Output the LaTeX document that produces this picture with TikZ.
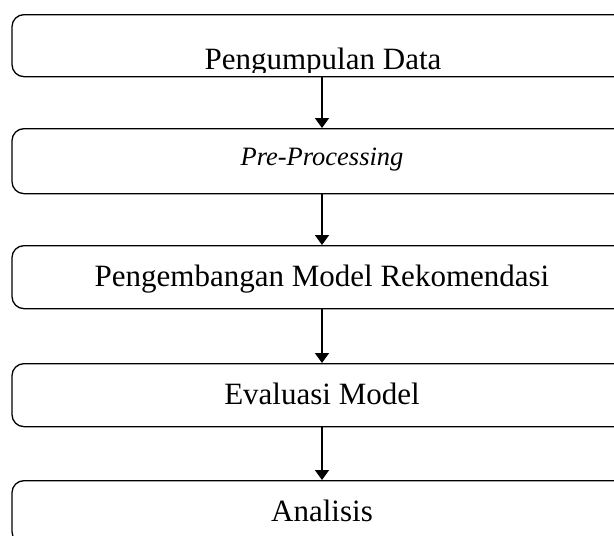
\documentclass[tikz,border=0pt]{standalone}
\usepackage{fontspec}
\setmainfont{Liberation Serif}
\usetikzlibrary{arrows.meta}
\tikzset{
	stage/.style = {
		rectangle,
		rounded corners=12pt,
		draw=black,
		line width=1.3pt,
		minimum width=620pt,
		inner sep=0pt,
		align=center,
		anchor=north,
		text height=41pt,
		text depth=22pt,
		font=\fontsize{31pt}{37pt}\selectfont
	},
	stage_it/.style = {
		stage,
		text height=37pt,
		text depth=28pt,
		font=\fontsize{26.5pt}{31pt}\selectfont\itshape
	},
	flow/.style = {
		line width=1.8pt,
		-{Triangle[width=14pt,length=10pt]}
	},
}
\begin{document}
\begin{tikzpicture}[x=1pt,y=-1pt]
\useasboundingbox (0,0) rectangle (614,536);
\clip (0,0) rectangle (614,536);
% stages
\node [stage, text height=0pt, text depth=0pt, minimum height=62pt] (collect) at (322,14) {};
\begin{scope}
	\clip (0,14) rectangle (640,72.5);
	\node [anchor=base, inner sep=0pt, font=\fontsize{31pt}{37pt}\selectfont] (collect_txt) at (323,69) {Pengumpulan Data};
\end{scope}
\node [stage_it] (prep) at (322,128) {Pre-Processing};
\node [stage] (model) at (322,245) {Pengembangan Model Rekomendasi};
\node [stage] (eval) at (322,363) {Evaluasi Model};
\node [stage] (anal) at (322,480) {Analisis};
% arrows
\draw [flow] (collect.south) -- (prep.north);
\draw [flow] (prep.south) -- (model.north);
\draw [flow] (model.south) -- (eval.north);
\draw [flow] (eval.south) -- (anal.north);
\end{tikzpicture}
\end{document}
